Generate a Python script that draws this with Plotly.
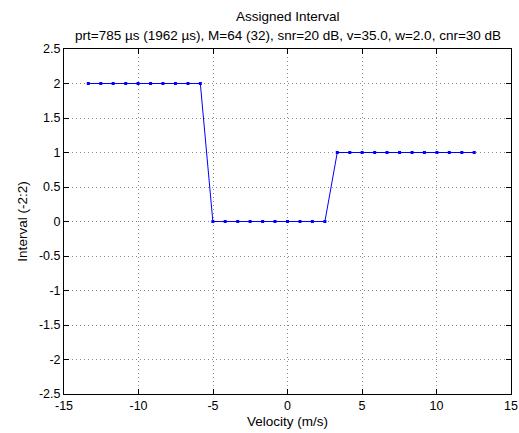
import plotly.graph_objects as go

# Velocity bins (m/s) and the interval index assigned to each bin
velocity = [-13.37, -12.53, -11.70, -10.86, -10.03, -9.19, -8.36, -7.52,
            -6.68, -5.85, -5.01, -4.18, -3.34, -2.51, -1.67, -0.84,
            0.00, 0.84, 1.67, 2.51, 3.34, 4.18, 5.01, 5.85,
            6.68, 7.52, 8.36, 9.19, 10.03, 10.86, 11.70, 12.53]
interval = [2, 2, 2, 2, 2, 2, 2, 2, 2, 2,
            0, 0, 0, 0, 0, 0, 0, 0, 0, 0,
            1, 1, 1, 1, 1, 1, 1, 1, 1, 1, 1, 1]

x_ticks = [-15, -10, -5, 0, 5, 10, 15]
x_tick_text = ["-15", "-10", "-5", "0", "5", "10", "15"]
y_ticks = [-2.5, -2, -1.5, -1, -0.5, 0, 0.5, 1, 1.5, 2, 2.5]
y_tick_text = ["-2.5", "-2", "-1.5", "-1", "-0.5", "0", "0.5", "1", "1.5", "2", "2.5"]

title_line1 = "Assigned Interval"
title_line2 = "prt=785 \u00b5s (1962 \u00b5s), M=64 (32), snr=20 dB, v=35.0, w=2.0, cnr=30 dB"

font_family = "Liberation Sans, Arial, sans-serif"
tick_font = dict(family=font_family, size=12.5, color="#000000")
label_font = dict(family=font_family, size=13.5, color="#000000")
title_font = dict(family=font_family, size=13.5, color="#000000")

fig = go.Figure()
fig.add_trace(go.Scatter(
    x=velocity, y=interval, mode="lines+markers",
    line=dict(color="#0000ff", width=1),
    marker=dict(color="#0000ff", size=3, symbol="square"),
    showlegend=False,
))

axis_common = dict(
    showline=True, linecolor="#000000", linewidth=1, mirror="ticks",
    ticks="inside", ticklen=5, tickcolor="#000000",
    showgrid=True, gridcolor="#8a8a8a", griddash="1px,3px", gridwidth=1,
    zeroline=False, automargin=False,
    tickfont=tick_font,
)

fig.update_xaxes(
    range=[-15, 15], tickvals=x_ticks, ticktext=x_tick_text,
    title=dict(text="Velocity (m/s)", standoff=4, font=label_font),
    **axis_common,
)
fig.update_yaxes(
    range=[-2.5, 2.5], tickvals=y_ticks, ticktext=y_tick_text,
    title=dict(text="Interval (-2:2)", standoff=8, font=label_font),
    **axis_common,
)

# Two-line title centred over the plotting area
fig.add_annotation(text=title_line1, xref="paper", yref="paper", x=0.5, y=1,
                   yshift=33, xanchor="center", yanchor="middle",
                   showarrow=False, font=title_font)
fig.add_annotation(text=title_line2, xref="paper", yref="paper", x=0.5, y=1,
                   yshift=14, xanchor="center", yanchor="middle",
                   showarrow=False, font=title_font)

fig.update_layout(
    width=519, height=433,
    margin=dict(l=64, r=8, t=49, b=39),
    paper_bgcolor="#ffffff", plot_bgcolor="#ffffff",
)

fig.write_html("out.html")
